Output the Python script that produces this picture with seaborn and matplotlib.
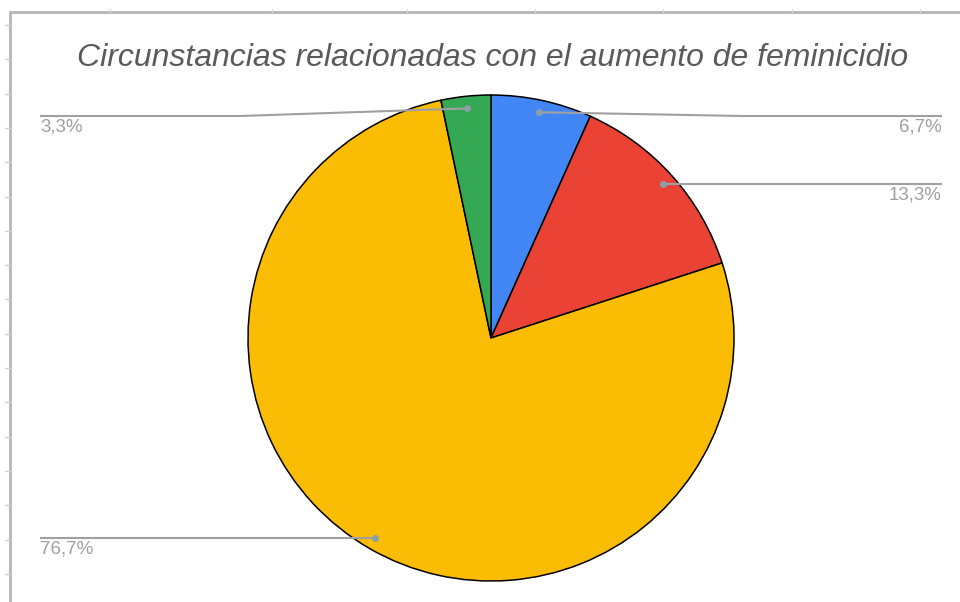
import matplotlib
matplotlib.use("Agg")
import matplotlib.pyplot as plt
import seaborn as sns
import numpy as np

sns.set_theme(style="white")
plt.rcParams['font.family'] = ['Liberation Sans', 'DejaVu Sans']

title = "Circunstancias relacionadas con el aumento de feminicidio"
values = [6.7, 13.3, 76.7, 3.3]
labels = ["6,7%", "13,3%", "76,7%", "3,3%"]
colors = ["#4285F4", "#EA4335", "#FBBC04", "#34A853"]

W, H = 960, 602
fig = plt.figure(figsize=(9.6, 6.02), dpi=100)
ax = fig.add_axes([0, 0, 1, 1])

cx, cy, r = 491, H - 338, 243
wedges, _ = ax.pie(values, colors=colors, startangle=90, counterclock=False,
                   center=(cx, cy), radius=r, frame=True,
                   wedgeprops=dict(edgecolor="black", linewidth=1.1))
ax.set_xlim(0, W)
ax.set_ylim(0, H)
ax.set_aspect('equal')
ax.axis('off')

line_col = "#a0a0a0"
top_level = H - 116
for w, lab in zip(wedges, labels):
    ang = np.deg2rad((w.theta1 + w.theta2) / 2)
    dx, dy = cx + 0.95 * r * np.cos(ang), cy + 0.95 * r * np.sin(ang)
    ly = min(dy, top_level)
    right = np.cos(ang) > 0
    kx = cx + (r + 8) * (1 if right else -1)
    ex = 942 if right else 40
    ax.plot([dx, kx, ex], [dy, ly, ly], color=line_col, lw=1.5,
            solid_capstyle='butt', zorder=3)
    ax.plot([dx], [dy], 'o', color="#8aa0a8", ms=4, zorder=4)
    ax.text(ex, ly - 3, lab, ha='right' if right else 'left', va='top',
            fontsize=13.5, color="#a0a0a0")

ax.text(493, H - 58, title, ha='center', va='center', fontsize=23,
        style='italic', color="#5a5a5a")

# screenshot frame
fc = "#b5b5b5"
ax.plot([10, 10], [0, H - 12], color=fc, lw=2)
ax.plot([10, W], [H - 12, H - 12], color=fc, lw=2)
for yy in np.arange(25, 602, 34.3):
    ax.plot([5, 10], [H - yy, H - yy], color="#d0d0d0", lw=1)
for xx in [110, 272, 407, 535, 663, 792, 920]:
    ax.plot([xx, xx], [H - 12, H - 9], color="#d8d8d8", lw=1)

fig.savefig("out.png", dpi=100)
